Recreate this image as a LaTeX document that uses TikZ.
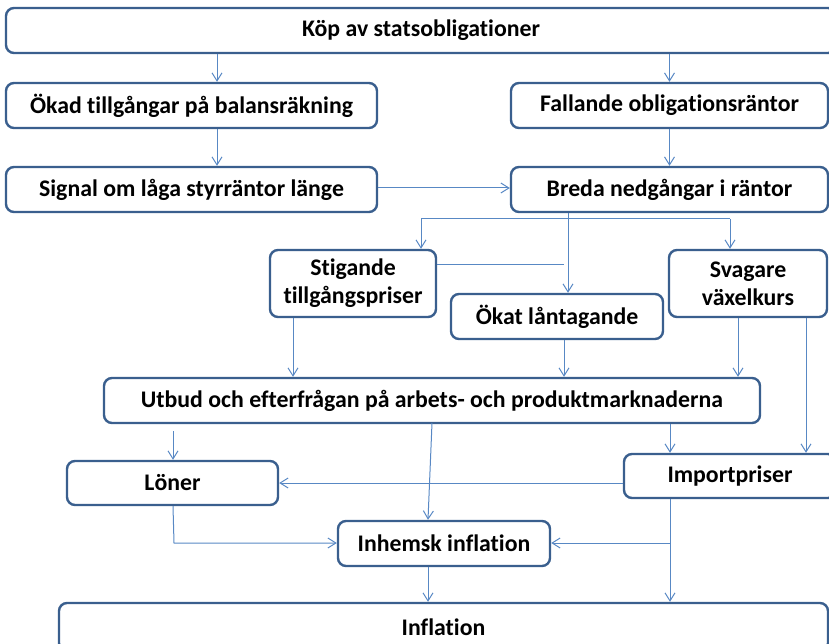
\documentclass[tikz,border=0pt]{standalone}
\usepackage{fontspec}
\setmainfont{Carlito}[Ligatures=NoCommon]
\usetikzlibrary{arrows.meta}
\definecolor{boxline}{RGB}{58,95,142}
\definecolor{conn}{RGB}{88,136,196}
\begin{document}
\begin{tikzpicture}[x=1pt,y=-1pt,
  box/.style={draw=boxline,line width=2.4pt,rounded corners=8pt,fill=white,
    inner sep=0pt,align=center,
    font=\bfseries\fontsize{23.8}{28}\selectfont},
  link/.style={draw=conn,line width=1pt},
  arr/.style={link,-{Straight Barb[length=8pt,width=10pt]}}]
\useasboundingbox (0,0) rectangle (829,644);
% nodes
\node[box,minimum width=830pt,minimum height=45pt] (kop) at (421,30.5) {Köp av statsobligationer};
\node[box,minimum width=371pt,minimum height=45pt] (okad) at (191.5,105.5) {Ökad tillgångar på balansräkning};
\node[box,minimum width=371pt,minimum height=45pt] (signal) at (191.5,189.5) {Signal om låga styrräntor länge};
\node[box,minimum width=317pt,minimum height=45pt] (fall) at (669.5,105.5) {Fallande obligationsräntor};
\node[box,minimum width=317pt,minimum height=45pt] (breda) at (669.5,189.5) {Breda nedgångar i räntor};
\node[box,minimum width=166pt,minimum height=67pt] (stig) at (353,283.5) {Stigande\\tillgångspriser};
\node[box,minimum width=212pt,minimum height=45pt] (okat) at (557,316.5) {Ökat låntagande};
\node[box,minimum width=158pt,minimum height=67pt] (svag) at (748,283.5) {Svagare\\växelkurs};
\node[box,minimum width=656pt,minimum height=45pt] (utbud) at (432,400.5) {Utbud och efterfrågan på arbets- och produktmarknaderna};
\node[box,minimum width=211pt,minimum height=44pt] (loner) at (172.5,483) {Löner};
\node[box,minimum width=212pt,minimum height=44pt] (import) at (730,476) {Importpriser};
\node[box,minimum width=212pt,minimum height=45pt] (inhem) at (444,543.5) {Inhemsk inflation};
\node[box,minimum width=769pt,minimum height=48pt] (infl) at (443.5,627) {Inflation};
% helper coordinates
\coordinate (xa) at (217,0);
\coordinate (xb) at (568,0);
\coordinate (ystem) at (0,219);
\coordinate (xstig) at (421,0);
\coordinate (xsvag) at (730,0);
\coordinate (stub) at (564,264);
\coordinate (x1) at (293,0);
\coordinate (x2) at (564,0);
\coordinate (x3) at (738,0);
\coordinate (x4) at (806,0);
\coordinate (x5) at (173,0);
\coordinate (x6) at (670,0);
\coordinate (x7) at (428,0);
\coordinate (ulow) at (432,423);
\coordinate (lbend) at (174,543);
\coordinate (ibend) at (670,543);
% connectors
\draw[arr] (kop.south -| xa) -- (okad.north -| xa);
\draw[arr] (okad.south -| xa) -- (signal.north -| xa);
\draw[arr] (kop.south -| fall.north) -- (fall.north);
\draw[arr] (fall.south) -- (breda.north);
\draw[arr] (signal.east |- 0,188) -- (breda.west |- 0,188);
\draw[arr] (breda.south -| xb) -- (okat.north -| xb);
\draw[link] (ystem -| xstig) -- (ystem -| xsvag);
\draw[arr] (ystem -| xstig) -- (stig.north -| xstig);
\draw[arr] (ystem -| xsvag) -- (svag.north -| xsvag);
\draw[link] (stig.east |- stub) -- (stub);
\draw[arr] (stig.south -| x1) -- (utbud.north -| x1);
\draw[arr] (okat.south -| x2) -- (utbud.north -| x2);
\draw[arr] (svag.south -| x3) -- (utbud.north -| x3);
\draw[arr] (svag.south -| x4) -- (import.north -| x4);
\draw[arr,shorten <=7pt] (utbud.south -| x5) -- (loner.north -| x5);
\draw[arr] (ulow) -- (inhem.north -| x7);
\draw[arr] (utbud.south -| x6) -- (import.north -| x6);
\draw[arr] (import.west |- 0,483) -- (loner.east |- 0,483);
\draw[arr] (loner.south -| x5) -- (lbend) -- (inhem.west |- lbend);
\draw[arr] (import.south -| x6) -- (infl.north -| x6);
\draw[arr] (ibend) -- (inhem.east |- ibend);
\draw[arr] (inhem.south -| x7) -- (infl.north -| x7);
\end{tikzpicture}
\end{document}
